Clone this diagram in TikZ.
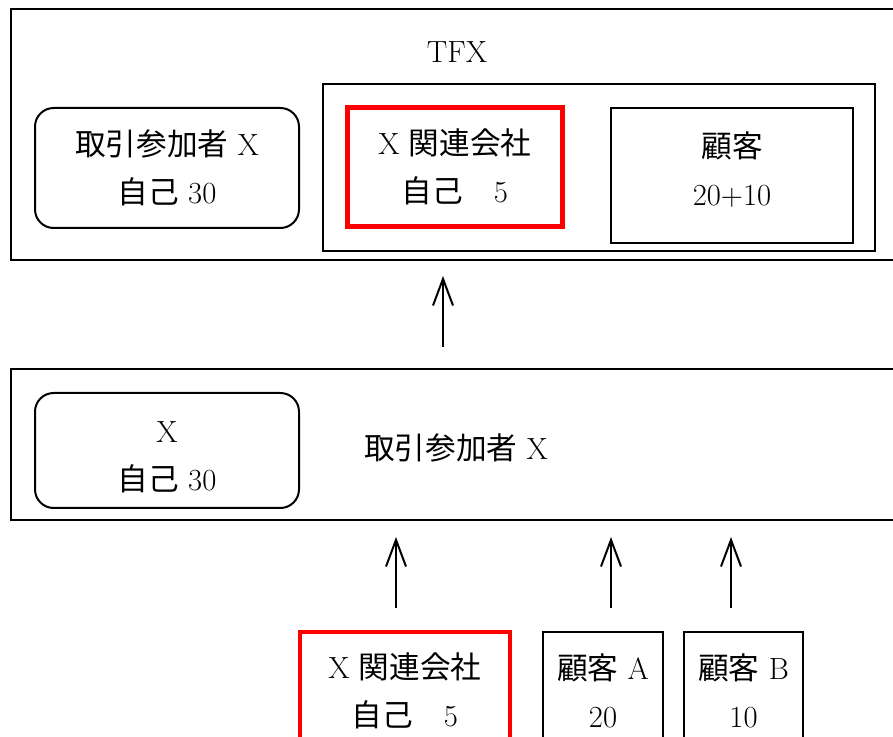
\documentclass[tikz,border=0pt]{standalone}
\usepackage{fontspec}
\newfontfamily\jp{Noto Sans CJK JP}
\usetikzlibrary{arrows.meta}
\begin{document}
\begin{tikzpicture}[x=0.75pt, y=-0.75pt, font=\fontsize{23}{36}\selectfont,
		frame/.style = {draw, line width=1.5pt, inner sep=0pt, align=center},
		rnd/.style = {frame, rounded corners=14pt},
		redbox/.style = {draw=red, line width=3.5pt, inner sep=0pt, align=center},
		up/.style = {-{Straight Barb[length=20pt, width=15pt]}, line width=1.5pt}]
		\clip (0,0) rectangle (893,737);
		\node[frame, minimum width=670.5pt, minimum height=188.25pt] (1) at (458,134.5) {};
		\node (2) at (457,52) {TFX};
		\node[rnd, minimum width=198pt, minimum height=90pt] (3) at (167,168) {{\jp 取引参加者} X\\{\jp 自己} 30};
		\node[frame, minimum width=414pt, minimum height=125.25pt] (4) at (599,167.5) {};
		\node[redbox, minimum width=161pt, minimum height=89pt] (5) at (455,167) {X {\jp 関連会社}\\{\jp 自己　}5};
		\node[frame, minimum width=181.5pt, minimum height=101.25pt] (6) at (732,175.5) {};
		\node[align=center] (13) at (732,170) {{\jp 顧客}\\20+10};
		\node[frame, minimum width=670.5pt, minimum height=113.25pt] (7) at (458,444.5) {};
		\node[rnd, minimum width=198pt, minimum height=86.25pt] (8) at (167,450.5) {};
		\node[align=center] (14) at (167,457) {X\\{\jp 自己} 30};
		\node (9) at (456,448) {{\jp 取引参加者} X};
		\node[redbox, minimum width=157.5pt, minimum height=88.5pt] (10) at (405,691) {X {\jp 関連会社}\\{\jp 自己　}5};
		\node[frame, minimum width=90pt, minimum height=88.5pt] (11) at (603,691) {{\jp 顧客} A\\20};
		\node[frame, minimum width=89.25pt, minimum height=88.5pt] (12) at (743.5,691) {{\jp 顧客} B\\10};
		\coordinate (a1) at (443,347);
		\coordinate (a2) at (443,276);
		\coordinate (b1) at (396,608);
		\coordinate (b2) at (396,537);
		\coordinate (c1) at (611,608);
		\coordinate (c2) at (611,537);
		\coordinate (d1) at (731,608);
		\coordinate (d2) at (731,537);
		\draw[up] (a1) -- (a2);
		\draw[up] (b1) -- (b2);
		\draw[up] (c1) -- (c2);
		\draw[up] (d1) -- (d2);
	\end{tikzpicture}
\end{document}
